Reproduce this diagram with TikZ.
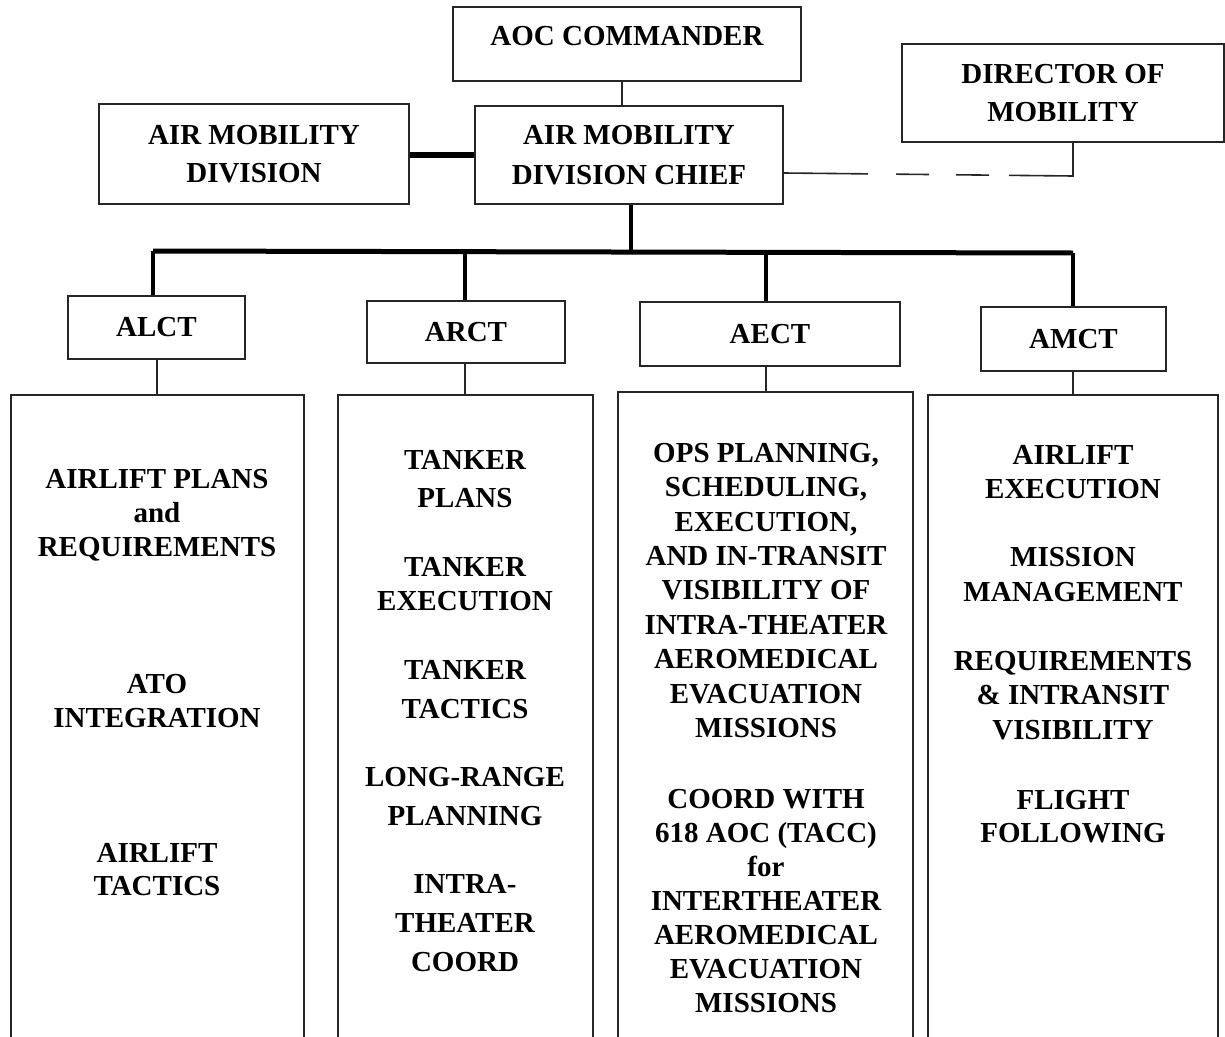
\documentclass[tikz,border=0pt]{standalone}
\usepackage{fontspec}
\setmainfont{Liberation Serif}
\begin{document}
\begin{tikzpicture}[x=1pt,y=-1pt,
  every node/.style={font=\bfseries\fontsize{29}{34}\selectfont, align=center, inner sep=0pt},
  box/.style={draw=black!85, line width=2pt},
  head/.style={box, font=\bfseries\fontsize{29}{38}\selectfont},
  link/.style={draw=black!85, line width=2pt},
  trunk/.style={draw=black, line width=3.2pt},
  bus/.style={draw=black, line width=5pt}
]
\clip (0,0) rectangle (1225,1036);
\fill[white] (0,0) rectangle (1225,1036);

% top level
\node[box, minimum width=348pt, minimum height=74pt, text height=19pt, text depth=17pt] (aoc) at (627,44) {AOC COMMANDER};
\node[head, minimum width=322pt, minimum height=98pt] (dom) at (1063,93) {DIRECTOR OF\\MOBILITY};
\node[head, minimum width=310pt, minimum height=100pt] (amd) at (254,154) {AIR MOBILITY\\DIVISION};
\node[head, font=\bfseries\fontsize{29}{40}\selectfont, minimum width=308pt, minimum height=98pt] (chief) at (629,155) {AIR MOBILITY\\DIVISION CHIEF};

% teams
\node[box, minimum width=177pt, minimum height=63pt] (alct) at (156.5,327.5) {ALCT};
\node[box, minimum width=198pt, minimum height=62pt] (arct) at (466,332) {ARCT};
\node[box, minimum width=260pt, minimum height=64pt] (aect) at (770,334) {AECT};
\node[box, minimum width=185pt, minimum height=64pt] (amct) at (1073.5,339) {AMCT};

% function panels (run off the page bottom)
\node[box, minimum width=293pt, minimum height=670pt] (p1) at (157.5,730) {};
\node[box, minimum width=255pt, minimum height=670pt] (p2) at (465.5,730) {};
\node[box, minimum width=295pt, minimum height=676pt] (p3) at (765.5,730) {};
\node[box, minimum width=290pt, minimum height=670pt] (p4) at (1073,730) {};

% chain of command
\draw[link] (aoc.south -| 622,0) -- (chief.north -| 622,0);
\draw[line width=6.5pt, black] (amd.east |- 0,155) -- (chief.west |- 0,155);
\draw[link, line width=1.6pt, dash pattern=on 84pt off 28pt on 33pt off 27pt on 33pt off 20pt on 200pt]
  (chief.east |- 0,173) -- (1073,176) -- (dom.south -| 1073,0);

% bus to the teams
\coordinate (busL) at (153,251);
\coordinate (busR) at (1073,253);
\draw[trunk] (chief.south -| 631,0) -- (631,251);
\draw[bus] (busL) -- (busR);
\draw[trunk] (busL) -- (alct.north -| busL);
\draw[trunk] (465,252) -- (arct.north -| 465,0);
\draw[trunk] (766,252) -- (aect.north -| 766,0);
\draw[trunk] (busR) -- (amct.north -| busR);

% teams to their panels
\draw[link] (alct.south -| 157,0) -- (p1.north -| 157,0);
\draw[link] (arct.south -| 465,0) -- (p2.north -| 465,0);
\draw[link] (aect.south -| 766,0) -- (p3.north -| 766,0);
\draw[link] (amct.south -| 1073,0) -- (p4.north -| 1073,0);

% ALCT functions
\node (a1) at (157,515) {AIRLIFT PLANS\\and\\REQUIREMENTS};
\node (a2) at (157,701) {ATO\\INTEGRATION};
\node[font=\bfseries\fontsize{29}{33}\selectfont] (a3) at (157,869.5) {AIRLIFT\\TACTICS};

% ARCT functions
\node[font=\bfseries\fontsize{29}{38}\selectfont] (r1) at (465,479) {TANKER\\PLANS};
\node (r2) at (465,584) {TANKER\\EXECUTION};
\node[font=\bfseries\fontsize{29}{39}\selectfont] (r3) at (465,689.5) {TANKER\\TACTICS};
\node[font=\bfseries\fontsize{29}{39}\selectfont] (r4) at (465,796.5) {LONG-RANGE\\PLANNING};
\node[font=\bfseries\fontsize{29}{39}\selectfont] (r5) at (465,923) {INTRA-\\THEATER\\COORD};

% AECT functions
\node[font=\bfseries\fontsize{29}{34.4}\selectfont] (e1) at (766,590.5) {OPS PLANNING,\\SCHEDULING,\\EXECUTION,\\AND IN-TRANSIT\\VISIBILITY OF\\INTRA-THEATER\\AEROMEDICAL\\EVACUATION\\MISSIONS};
\node (e2) at (766,901) {COORD WITH\\618 AOC (TACC)\\for\\INTERTHEATER\\AEROMEDICAL\\EVACUATION\\MISSIONS};

% AMCT functions
\node (m1) at (1073,472) {AIRLIFT\\EXECUTION};
\node[font=\bfseries\fontsize{29}{35}\selectfont] (m2) at (1073,574.5) {MISSION\\MANAGEMENT};
\node[font=\bfseries\fontsize{29}{34.5}\selectfont] (m3) at (1073,695.5) {REQUIREMENTS\\\& INTRANSIT\\VISIBILITY};
\node[font=\bfseries\fontsize{29}{33}\selectfont] (m4) at (1073,816.5) {FLIGHT\\FOLLOWING};
\end{tikzpicture}
\end{document}
